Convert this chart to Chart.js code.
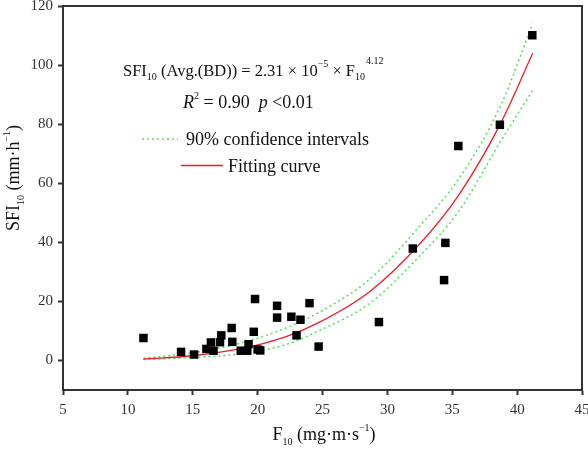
<!DOCTYPE html>
<html>
<head>
<meta charset="utf-8">
<script src="https://cdn.jsdelivr.net/npm/chart.js@4/dist/chart.umd.min.js"></script>
<style>
html,body{margin:0;padding:0;background:#fff;}
#wrap{width:588px;height:451px;position:relative;}
</style>
</head>
<body>
<div id="wrap"><canvas id="c" width="588" height="451"></canvas></div>
<script>
const fValues   = [11.2, 14.1, 15.1, 16.05, 16.4, 16.6, 17.1, 17.2, 18.0, 18.05, 18.7, 19.2, 19.3, 19.7, 19.8, 20.0, 20.2, 21.5, 21.5, 22.6, 23.0, 23.3, 24.0, 24.7, 29.35, 31.96, 34.37, 34.47, 35.47, 38.67, 41.17];
const sfiValues = [7.6, 2.9, 2.0, 3.9, 6.1, 3.3, 6.2, 8.5, 11.0, 6.3, 3.3, 3.3, 5.5, 9.7, 20.8, 3.7, 3.4, 18.5, 14.5, 14.8, 8.5, 13.8, 19.4, 4.7, 13.0, 37.9, 27.2, 39.8, 72.6, 79.8, 110.1];

// Fitting curve and 90% confidence band
const curveF   = [11.2, 15, 18.6, 22.2, 24.7, 28.6, 32.4, 35.5, 38.7, 41.2];
const fitSFI   = [0.5, 1.6, 3.9, 8.1, 12.8, 23.2, 39.0, 56.0, 80.0, 104.0];
const upperSFI = [0.7, 2.6, 5.8, 11.0, 16.2, 27.4, 45.0, 61.5, 86.0, 114.0];
const lowerSFI = [0.3, 1.0, 2.2, 5.4, 10.0, 19.2, 35.0, 50.5, 74.0, 91.5];

// Axis ticks
const xTicks = [5, 10, 15, 20, 25, 30, 35, 40, 45];
const yTicks = [0, 20, 40, 60, 80, 100, 120];

const FONT = '"Liberation Serif", "Times New Roman", serif';
const AXIS = '#333333';
const GREEN = '#55dd55';
const RED = '#e8202a';

function pts(xs, ys){ return xs.map((x,i)=>({x:x, y:ys[i]})); }

function drawRich(ctx, x, y, segs){
  let cx = x;
  for (const s of segs){
    ctx.font = (s.it ? 'italic ' : '') + s.sz + 'px ' + FONT;
    cx += (s.dx || 0);
    ctx.fillText(s.t, cx, y + (s.dy || 0));
    cx += ctx.measureText(s.t).width;
  }
  return cx - x;
}
function richWidth(ctx, segs){
  let w = 0;
  for (const s of segs){
    ctx.font = (s.it ? 'italic ' : '') + s.sz + 'px ' + FONT;
    w += ctx.measureText(s.t).width + (s.dx || 0);
  }
  return w;
}

const overlay = {
  id: 'overlay',
  afterDraw(chart){
    const ctx = chart.ctx;
    const a = chart.chartArea;
    ctx.save();
    // box top and right
    ctx.strokeStyle = AXIS;
    ctx.lineWidth = 2;
    ctx.beginPath();
    ctx.moveTo(a.left, a.top);
    ctx.lineTo(a.right, a.top);
    ctx.lineTo(a.right, a.bottom);
    ctx.stroke();

    ctx.fillStyle = '#111';
    ctx.textBaseline = 'alphabetic';
    ctx.textAlign = 'left';

    // equation
    drawRich(ctx, 123, 76, [
      {t:'SFI', sz:16.5},
      {t:'10', sz:10, dy:4},
      {t:' (Avg.(BD)) = 2.31 × 10', sz:16.5},
      {t:'−5', sz:10, dy:-9},
      {t:' × F', sz:16.5},
      {t:'10', sz:10, dy:4},
      {t:'4.12', sz:10, dy:-12, dx:1}
    ]);
    drawRich(ctx, 183, 108, [
      {t:'R', sz:18, it:true},
      {t:'2', sz:10, dy:-9},
      {t:' = 0.90  ', sz:18},
      {t:'p', sz:18, it:true},
      {t:' <0.01', sz:18}
    ]);

    // legend samples
    ctx.lineWidth = 1.5;
    ctx.strokeStyle = GREEN;
    ctx.setLineDash([2,3]);
    ctx.beginPath(); ctx.moveTo(142, 139); ctx.lineTo(178, 139); ctx.stroke();
    ctx.setLineDash([]);
    ctx.strokeStyle = RED;
    ctx.lineWidth = 1.3;
    ctx.beginPath(); ctx.moveTo(181, 165.5); ctx.lineTo(223, 165.5); ctx.stroke();
    drawRich(ctx, 186, 145, [{t:'90% confidence intervals', sz:18}]);
    drawRich(ctx, 228, 172, [{t:'Fitting curve', sz:18}]);

    // x axis title
    const xt = [
      {t:'F', sz:18}, {t:'10', sz:10, dy:5}, {t:' (mg·m·s', sz:18}, {t:'−1', sz:10, dy:-9}, {t:')', sz:18}
    ];
    const xw = richWidth(ctx, xt);
    drawRich(ctx, 324 - xw/2, 440, xt);

    // y axis title
    const yt = [
      {t:'SFI', sz:18}, {t:'10', sz:10, dy:5}, {t:' (mm·h', sz:18}, {t:'−1', sz:10, dy:-9}, {t:')', sz:18}
    ];
    const yw = richWidth(ctx, yt);
    ctx.translate(19, 178);
    ctx.rotate(-Math.PI/2);
    drawRich(ctx, -yw/2, 0, yt);
    ctx.restore();
  }
};

new Chart(document.getElementById('c'), {
  type: 'scatter',
  data: {
    datasets: [
      {
        label: 'upper',
        data: pts(curveF, upperSFI),
        showLine: true,
        borderColor: GREEN,
        borderWidth: 1.5,
        borderDash: [2,3],
        pointRadius: 0,
        cubicInterpolationMode: 'monotone',
        order: 3
      },
      {
        label: 'lower',
        data: pts(curveF, lowerSFI),
        showLine: true,
        borderColor: GREEN,
        borderWidth: 1.5,
        borderDash: [2,3],
        pointRadius: 0,
        cubicInterpolationMode: 'monotone',
        order: 3
      },
      {
        label: 'Fitting curve',
        data: pts(curveF, fitSFI),
        showLine: true,
        borderColor: RED,
        borderWidth: 1.3,
        pointRadius: 0,
        cubicInterpolationMode: 'monotone',
        order: 2
      },
      {
        label: 'Observed',
        data: pts(fValues, sfiValues),
        pointStyle: 'rect',
        pointRadius: 6,
        pointBorderWidth: 0,
        backgroundColor: '#000',
        borderColor: '#000',
        order: 1
      }
    ]
  },
  options: {
    responsive: false,
    animation: false,
    devicePixelRatio: 1,
    layout: { padding: { top: 4, right: 4, left: 0, bottom: 0 } },
    plugins: { legend: { display: false }, tooltip: { enabled: false } },
    scales: {
      x: {
        type: 'linear',
        min: 5, max: 45,
        afterFit(scale){ scale.height = 61; scale.paddingLeft = 0; scale.paddingRight = 0; },
        afterBuildTicks(scale){ scale.ticks = xTicks.map(v => ({value: v})); },
        grid: { drawOnChartArea: false, drawTicks: true, tickLength: 5, tickWidth: 2, tickColor: AXIS },
        border: { display: true, color: AXIS, width: 2 },
        ticks: { font: { family: FONT, size: 15 }, color: '#333', padding: 6, maxRotation: 0, autoSkip: false }
      },
      y: {
        type: 'linear',
        min: -10, max: 120,
        afterFit(scale){ scale.width = 63; scale.paddingTop = 0; scale.paddingBottom = 0; },
        afterBuildTicks(scale){ scale.ticks = yTicks.map(v => ({value: v})); },
        grid: { drawOnChartArea: false, drawTicks: true, tickLength: 5, tickWidth: 2, tickColor: AXIS },
        border: { display: true, color: AXIS, width: 2 },
        ticks: { font: { family: FONT, size: 15 }, color: '#333', padding: 5, autoSkip: false }
      }
    }
  },
  plugins: [overlay]
});
</script>
</body>
</html>
